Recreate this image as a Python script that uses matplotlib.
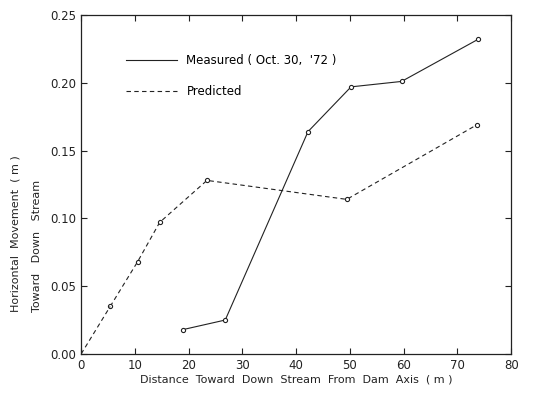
import matplotlib
matplotlib.use("Agg")
import matplotlib.pyplot as plt

plt.rcParams["font.family"] = ["DejaVu Sans"]

measured_x = [19.0, 26.8, 42.2, 50.2, 59.6, 73.8]
measured_y = [0.018, 0.025, 0.164, 0.197, 0.201, 0.232]
predicted_x = [0.0, 5.4, 10.5, 14.6, 23.4, 49.4, 73.6]
predicted_y = [0.0, 0.035, 0.068, 0.097, 0.128, 0.114, 0.169]
xticks = [0, 10, 20, 30, 40, 50, 60, 70, 80]
yticks = [0.00, 0.05, 0.10, 0.15, 0.20, 0.25]

fig = plt.figure(figsize=(5.41, 3.95), dpi=100)
ax = fig.add_axes([0.15, 0.104, 0.795, 0.858])

ink = "#222222"
ax.plot(measured_x, measured_y, "-", color=ink, lw=0.8,
        marker="o", ms=3, mfc="white", mew=0.8, label="Measured ( Oct. 30,  '72 )")
ax.plot(predicted_x[1:], predicted_y[1:], "--", color=ink, lw=0.8,
        marker="o", ms=3, mfc="white", mew=0.8, dashes=(4, 3), label="Predicted")
ax.plot(predicted_x[:2], predicted_y[:2], "--", color=ink, lw=0.8, dashes=(4, 3))

ax.set_xlim(0, 80)
ax.set_ylim(0, 0.25)
ax.set_xticks(xticks)
ax.set_yticks(yticks)
ax.set_yticklabels([f"{v:.2f}" for v in yticks])
ax.tick_params(direction="in", top=True, right=True, labelsize=8.5, length=4,
               colors=ink)
for s in ax.spines.values():
    s.set_color(ink)
    s.set_linewidth(0.9)
ax.set_xlabel("Distance  Toward  Down  Stream  From  Dam  Axis  ( m )",
              fontsize=8, labelpad=2, color=ink)

# two-line y label, both lines starting at the same height as in the scan
fig.text(0.028, 0.21, "Horizontal  Movement  ( m )", rotation=90, fontsize=8,
         ha="center", va="bottom", color=ink)
fig.text(0.068, 0.21, "Toward   Down   Stream", rotation=90, fontsize=8,
         ha="center", va="bottom", color=ink)

leg = ax.legend(loc="upper left", bbox_to_anchor=(0.08, 0.915), frameon=False,
                fontsize=8.5, handlelength=4.3, handletextpad=0.8, labelspacing=1.5)
for h in leg.legend_handles:
    h.set_marker("")

fig.savefig("out.png", dpi=100)
